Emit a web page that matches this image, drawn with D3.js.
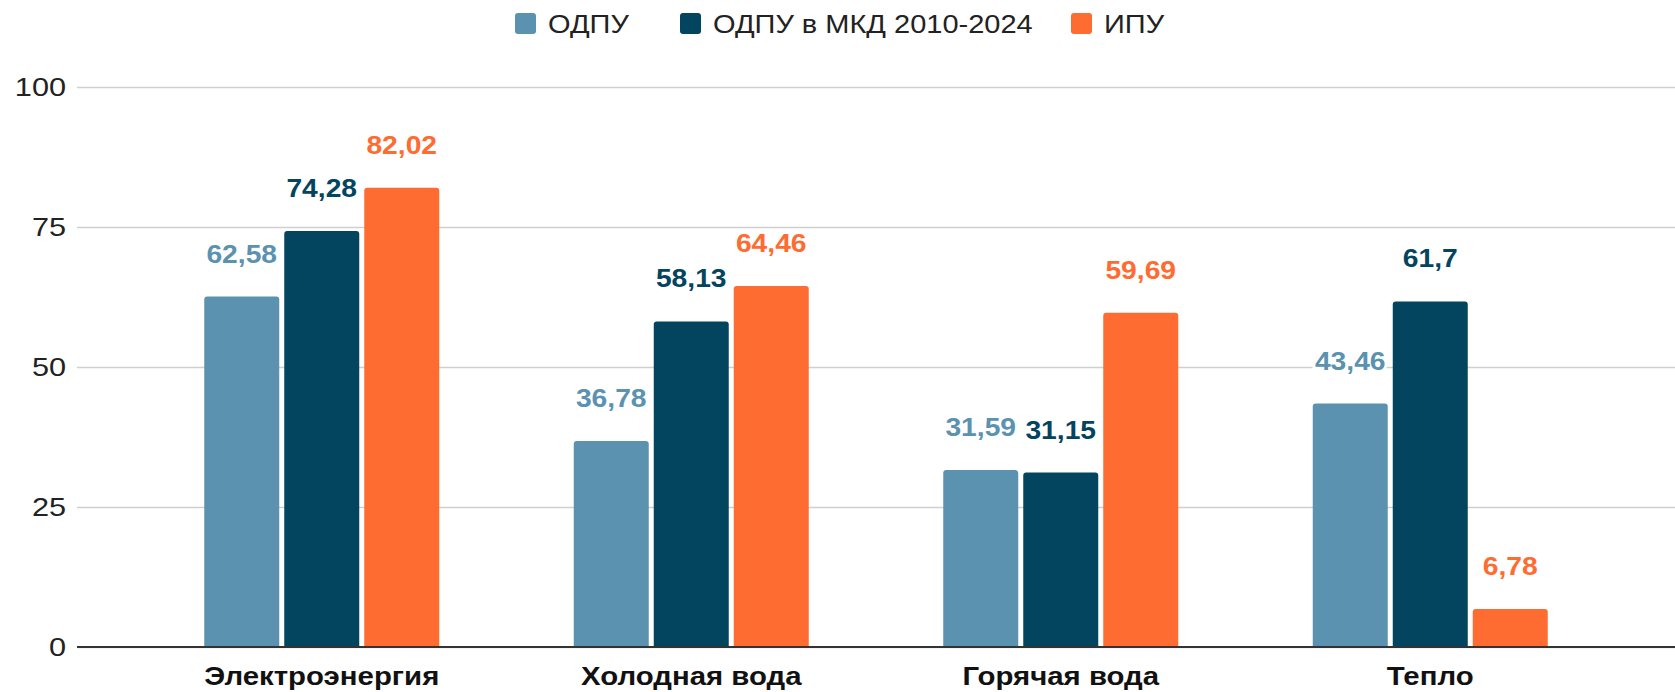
<!DOCTYPE html>
<html>
<head>
<meta charset="utf-8">
<script src="https://cdn.jsdelivr.net/npm/d3@7"></script>
<style>
  body { margin: 0; background: #fff; }
  text { font-family: "Liberation Sans", Arial, sans-serif; }
</style>
</head>
<body>
<div id="chart"></div>
<script>
var categories = ["Электроэнергия", "Холодная вода", "Горячая вода", "Тепло"];
var seriesNames = ["ОДПУ", "ОДПУ в МКД 2010-2024", "ИПУ"];
var odpu = [62.58, 36.78, 31.59, 43.46];
var odpuMkd = [74.28, 58.13, 31.15, 61.7];
var ipu = [82.02, 64.46, 59.69, 6.78];
var yTicks = [0, 25, 50, 75, 100];
var colors = ["#5b92b0", "#03445f", "#fe6c31"];

var seriesValues = [odpu, odpuMkd, ipu];

var w = 1675;
var h = 692;
var stretch = 1.13;  // the source text is a bit wider than Liberation Sans

var svg = d3.select("#chart")
    .append("svg")
    .attr("width", w)
    .attr("height", h);

// scales
var xScale = d3.scaleBand()
    .domain(categories)
    .range([137, 1615]);

var groupWidth = 235;
var xSub = d3.scaleBand()
    .domain(seriesNames)
    .range([-groupWidth / 2, groupWidth / 2])
    .paddingInner(0.0625);

var yScale = d3.scaleLinear()
    .domain([0, 100])
    .range([647, 87]);

// gridlines + y labels
var yAxis = d3.axisLeft(yScale)
    .tickValues(yTicks)
    .tickSize(-(w - 77))
    .tickPadding(0)
    .tickFormat(d3.format("d"));

var gy = svg.append("g")
    .attr("transform", "translate(77,0)")
    .call(yAxis);
gy.select(".domain").remove();
gy.selectAll(".tick line")
    .attr("stroke", "#cfcfcf")
    .attr("stroke-width", 1.5);
gy.selectAll(".tick text")
    .attr("x", 0)
    .attr("transform", "translate(-11,0) scale(1.18,1)")
    .attr("font-size", 26)
    .attr("fill", "#222")
    .style("font-family", "'Liberation Sans', Arial, sans-serif");

// bars
var rows = [];
categories.forEach(function(c, i) {
    seriesNames.forEach(function(s, j) {
        rows.push({ cat: c, series: s, value: seriesValues[j][i], color: colors[j] });
    });
});

var bars = svg.append("g");
bars.selectAll("path")
    .data(rows)
    .enter()
    .append("path")
    .attr("fill", function(d) { return d.color; })
    .attr("d", function(d) {
        var x0 = xScale(d.cat) + xScale.bandwidth() / 2 + xSub(d.series);
        var bw = xSub.bandwidth();
        var y0 = yScale(0);
        var y1 = yScale(d.value);
        var r = 3;
        return "M" + x0 + "," + y0 +
            "V" + (y1 + r) +
            "Q" + x0 + "," + y1 + " " + (x0 + r) + "," + y1 +
            "H" + (x0 + bw - r) +
            "Q" + (x0 + bw) + "," + y1 + " " + (x0 + bw) + "," + (y1 + r) +
            "V" + y0 + "Z";
    });

// baseline
svg.append("line")
    .attr("x1", 77)
    .attr("x2", w)
    .attr("y1", yScale(0))
    .attr("y2", yScale(0))
    .attr("stroke", "#333")
    .attr("stroke-width", 2);

// value labels
svg.append("g").selectAll("text")
    .data(rows)
    .enter()
    .append("text")
    .attr("transform", function(d) {
        var cx = xScale(d.cat) + xScale.bandwidth() / 2 + xSub(d.series) + xSub.bandwidth() / 2;
        return "translate(" + cx + "," + (yScale(d.value) - 34) + ") scale(" + stretch + ",1)";
    })
    .attr("text-anchor", "middle")
    .attr("font-size", 25)
    .attr("font-weight", "bold")
    .attr("fill", function(d) { return d.color; })
    .attr("stroke", "#fff")
    .attr("stroke-width", 5)
    .attr("paint-order", "stroke")
    .text(function(d) { return String(d.value).replace(".", ","); });

// category labels
var xAxis = d3.axisBottom(xScale).tickSize(0).tickPadding(0);
var gx = svg.append("g")
    .attr("transform", "translate(0," + yScale(0) + ")")
    .call(xAxis);
gx.select(".domain").remove();
gx.selectAll(".tick text")
    .attr("y", 0)
    .attr("dy", 0)
    .attr("transform", "translate(0,38) scale(" + stretch + ",1)")
    .attr("font-size", 26)
    .attr("font-weight", "bold")
    .attr("fill", "#111")
    .style("font-family", "'Liberation Sans', Arial, sans-serif");

// legend
var legendX = [515, 680, 1071];
var legend = svg.append("g").selectAll("g")
    .data(seriesNames)
    .enter()
    .append("g")
    .attr("transform", function(d, i) { return "translate(" + legendX[i] + ",13)"; });

legend.append("rect")
    .attr("width", 21)
    .attr("height", 21)
    .attr("rx", 3)
    .attr("fill", function(d, i) { return colors[i]; });

legend.append("text")
    .attr("transform", "translate(33,10.5) scale(1.16,1)")
    .attr("dy", "0.36em")
    .attr("font-size", 25)
    .attr("fill", "#222")
    .text(function(d) { return d; });
</script>
</body>
</html>
